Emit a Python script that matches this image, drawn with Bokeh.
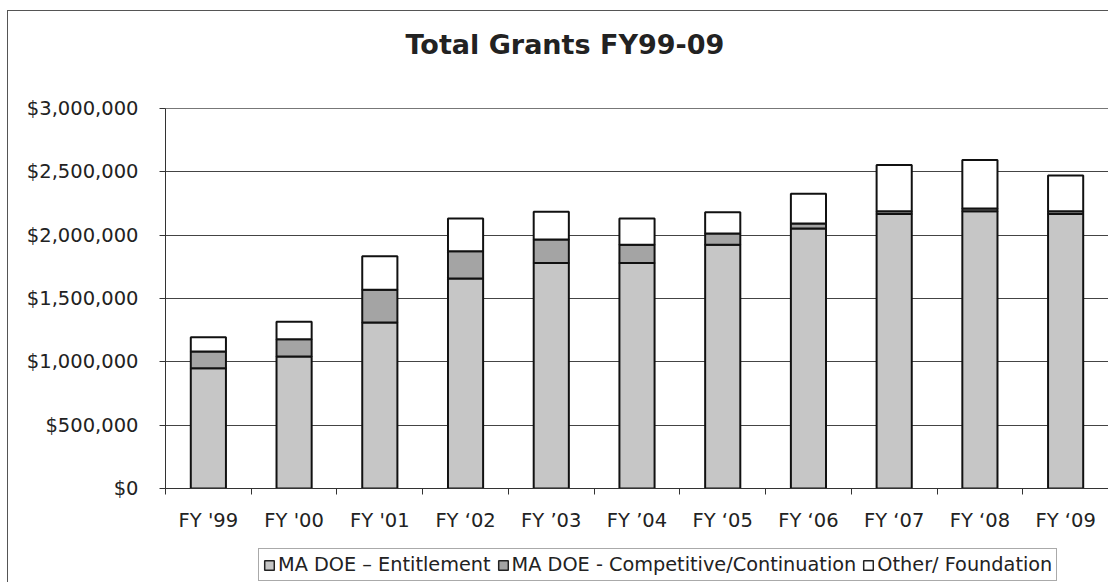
import numpy as np
from bokeh.plotting import figure
from bokeh.layouts import column
from bokeh.models import FixedTicker, NumeralTickFormatter, Range1d, Title
from bokeh.embed import file_html
from bokeh.resources import INLINE

categories = ["FY '99", "FY '00", "FY '01", "FY \u201802", "FY \u201903", "FY \u201904",
              "FY \u201805", "FY \u201806", "FY \u201807", "FY \u201808", "FY \u201809"]
entitlement = [950000, 1042000, 1311000, 1657000, 1780000, 1780000, 1925000, 2052000, 2168000, 2189000, 2168000]
competitive = [131000, 137000, 259000, 216000, 185000, 145000, 88000, 40000, 21000, 21000, 21000]
other = [114000, 137000, 263000, 258000, 219000, 206000, 168000, 234000, 364000, 383000, 282000]
series_names = ["MA DOE \u2013 Entitlement", "MA DOE - Competitive/Continuation", "Other/ Foundation"]
y_ticks = [0, 500000, 1000000, 1500000, 2000000, 2500000, 3000000]
colors = ["#c6c6c6", "#a4a4a4", "#ffffff"]

FONT = "DejaVu Sans"
BORDER = "1.5px solid #555555"
n = len(categories)
xc = list(np.arange(n) + 0.5)

p = figure(frame_width=942, frame_height=379, output_backend="svg", toolbar_location=None,
           x_range=Range1d(0, n), y_range=Range1d(0, 3000000),
           min_border_left=157, min_border_right=1, min_border_top=97, min_border_bottom=45)
p.margin = (10, 0, 0, 7)
p.styles = {"border-top": BORDER, "border-left": BORDER}

src = dict(x=xc, ent=entitlement, comp=competitive, oth=other)
p.vbar_stack(["ent", "comp", "oth"], x="x", width=0.41, source=src,
             fill_color=colors, line_color="#111111", line_width=2)

# title: a thin spacer panel next to the frame, then the real title above it
p.title.text = ""
p.add_layout(Title(text=" ", text_font_size="1px", standoff=41), "above")
p.add_layout(Title(text="Total Grants FY99-09", text_font=FONT, text_font_size="27px",
                   text_font_style="bold", text_color="#222222", align="left",
                   offset=240, standoff=10), "above")

# axes
xa = p.xaxis[0]
xa.ticker = FixedTicker(ticks=xc, minor_ticks=list(range(n + 1)))
xa.major_label_overrides = {float(v): c for v, c in zip(xc, categories)}
xa.major_tick_line_color = None
xa.major_tick_out = 0
xa.minor_tick_out = 6
xa.minor_tick_in = 0
xa.minor_tick_line_color = "#333333"
xa.axis_line_color = "#333333"
xa.major_label_text_font = FONT
xa.major_label_text_font_size = "19.5px"
xa.major_label_text_color = "#222222"
xa.major_label_standoff = 14

ya = p.yaxis[0]
ya.ticker = FixedTicker(ticks=y_ticks)
ya.formatter = NumeralTickFormatter(format="$0,0")
ya.major_tick_out = 6
ya.major_tick_in = 0
ya.minor_tick_line_color = None
ya.axis_line_color = "#333333"
ya.major_tick_line_color = "#333333"
ya.major_label_text_font = FONT
ya.major_label_text_font_size = "19.5px"
ya.major_label_text_color = "#222222"
ya.major_label_standoff = 21

p.xgrid.grid_line_color = None
p.ygrid.grid_line_color = "#444444"
p.ygrid.grid_line_width = 1
p.outline_line_color = "#777777"

# legend strip below the chart (its bars lie far outside the strip's visible ranges)
lf = figure(frame_width=1100, frame_height=50, output_backend="svg", toolbar_location=None,
            x_axis_location=None, y_axis_location=None, min_border=0,
            x_range=Range1d(1000, 1001), y_range=Range1d(1e12, 1e12 + 1))
lf.margin = (0, 0, 0, 7)
lf.styles = {"border-left": BORDER}
lf.outline_line_color = None
lf.xgrid.grid_line_color = None
lf.ygrid.grid_line_color = None
lf.vbar_stack(["ent", "comp", "oth"], x="x", width=0.41, source=dict(src),
              fill_color=colors, line_color="#222222", line_width=1.5,
              legend_label=series_names)
lg = lf.legend[0]
lg.location = (250, 2)
lg.orientation = "horizontal"
lg.label_text_font = FONT
lg.label_text_font_size = "19.3px"
lg.label_text_color = "#222222"
lg.glyph_width = 12
lg.glyph_height = 12
lg.label_standoff = 3
lg.spacing = 6
lg.padding = 4
lg.margin = 0
lg.border_line_color = "#555555"
lg.background_fill_alpha = 1

layout = column(p, lf, spacing=0)
open("out.html", "w").write(file_html(layout, INLINE))
